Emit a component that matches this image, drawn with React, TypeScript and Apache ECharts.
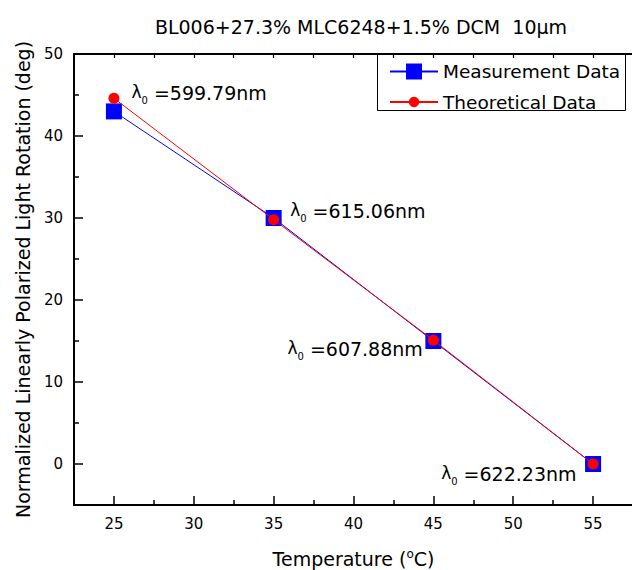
import React, { useEffect, useRef } from 'react';
import * as echarts from 'echarts';

const temperatures = [25, 35, 45, 55];
const measurementData = [43.0, 30.0, 15.0, 0.0];
const theoreticalData = [44.6, 29.8, 15.1, 0.0];
const lambdaValues = ['599.79', '615.06', '607.88', '622.23'];
const xMajorTicks = [25, 30, 35, 40, 45, 50, 55];
const xMinorTicks = [27.5, 32.5, 37.5, 42.5, 47.5, 52.5];
const yMajorTicks = [0, 10, 20, 30, 40, 50];
const yMinorTicks = [5, 15, 25, 35, 45];

const titleText = 'BL006+27.3% MLC6248+1.5% DCM  10\u03bcm';
const xName = 'Temperature ({sup|o}C)';
const yName = 'Normalized Linearly Polarized Light Rotation (deg)';
const seriesNames = ['Measurement Data', 'Theoretical Data'];

const FONT = "'DejaVu Sans', sans-serif";

// label placement style for each annotation (position + pixel nudge)
const labelPlacement: { position: string; offset: number[] }[] = [
  { position: 'right', offset: [7, -4] },
  { position: 'right', offset: [6, -7] },
  { position: 'left', offset: [0, 10] },
  { position: 'left', offset: [-6, 11] },
];

const lambdaRich = {
  l: { fontFamily: FONT, fontSize: 17, color: '#000', lineHeight: 22, verticalAlign: 'top' },
  s: { fontFamily: FONT, fontSize: 10, color: '#000', lineHeight: 12, padding: [16, 0, 0, 0], verticalAlign: 'bottom' },
  t: { fontFamily: FONT, fontSize: 19, color: '#000', lineHeight: 22, verticalAlign: 'top' },
};

export default function App() {
  const ref = useRef<HTMLDivElement>(null);

  useEffect(() => {
    if (!ref.current) return;
    const chart = echarts.init(ref.current, undefined, { renderer: 'svg' });

    const baseX = {
      type: 'value',
      min: 22.5,
      max: 57.5,
      splitLine: { show: false },
    };
    const baseY = {
      type: 'value',
      min: -5,
      max: 50,
      splitLine: { show: false },
    };

    const option: any = {
      animation: false,
      backgroundColor: '#fff',
      title: {
        text: titleText,
        left: 356,
        top: 12,
        textAlign: 'center',
        textStyle: { fontFamily: FONT, fontSize: 19, fontWeight: 'normal', color: '#000' },
      },
      grid: { left: 74, top: 54, width: 559, height: 451, containLabel: false, outerBoundsMode: 'none' },
      legend: [
        {
          data: [seriesNames[0]],
          left: 389,
          top: 62,
          padding: 0,
          itemWidth: 48,
          itemHeight: 20,
          selectedMode: false,
          textStyle: { fontFamily: FONT, fontSize: 18.5, color: '#000' },
          z: 10,
        },
        {
          data: [seriesNames[1]],
          left: 389,
          top: 92.5,
          padding: 0,
          itemWidth: 48,
          itemHeight: 13,
          selectedMode: false,
          textStyle: { fontFamily: FONT, fontSize: 18.5, color: '#000' },
          z: 10,
        },
      ],
      graphic: [
        {
          type: 'rect',
          shape: { x: 377.5, y: 54.5, width: 248, height: 56 },
          style: { fill: '#fff', stroke: '#000', lineWidth: 1 },
          z: 3,
        },
      ],
      xAxis: [
        {
          ...baseX,
          position: 'bottom',
          name: xName,
          nameLocation: 'middle',
          nameGap: 43,
          nameTextStyle: {
            fontFamily: FONT,
            fontSize: 19,
            color: '#000',
            rich: { sup: { fontFamily: FONT, fontSize: 12, color: '#000', verticalAlign: 'top', lineHeight: 22 } },
          },
          axisLine: { show: true, onZero: false, lineStyle: { color: '#000', width: 2 } },
          axisTick: { show: true, inside: true, length: 9, customValues: xMajorTicks, lineStyle: { color: '#000', width: 1.5 } },
          axisLabel: { show: true, customValues: xMajorTicks, margin: 11, fontFamily: FONT, fontSize: 15, color: '#000' },
        },
        {
          ...baseX,
          position: 'bottom',
          axisLine: { show: false, onZero: false },
          axisTick: { show: true, inside: true, length: 5, customValues: xMinorTicks, lineStyle: { color: '#000', width: 1.5 } },
          axisLabel: { show: false },
        },
        {
          ...baseX,
          position: 'top',
          z: 6,
          axisLine: { show: true, onZero: false, lineStyle: { color: '#000', width: 2 } },
          axisTick: { show: true, inside: true, length: 4, customValues: [...xMajorTicks, ...xMinorTicks], lineStyle: { color: '#000', width: 1.2 } },
          axisLabel: { show: false },
        },
      ],
      yAxis: [
        {
          ...baseY,
          position: 'left',
          name: yName,
          nameLocation: 'middle',
          nameGap: 42,
          nameTextStyle: { fontFamily: FONT, fontSize: 19, color: '#000' },
          axisLine: { show: true, onZero: false, lineStyle: { color: '#000', width: 2 } },
          axisTick: { show: true, inside: true, length: 9, customValues: yMajorTicks, lineStyle: { color: '#000', width: 1.5 } },
          axisLabel: { show: true, customValues: yMajorTicks, margin: 11, fontFamily: FONT, fontSize: 15, color: '#000' },
        },
        {
          ...baseY,
          position: 'left',
          axisLine: { show: false, onZero: false },
          axisTick: { show: true, inside: true, length: 5, customValues: yMinorTicks, lineStyle: { color: '#000', width: 1.5 } },
          axisLabel: { show: false },
        },
      ],
      series: [
        {
          name: seriesNames[0],
          type: 'line',
          xAxisIndex: 0,
          yAxisIndex: 0,
          data: temperatures.map((t, i) => [t, measurementData[i]]),
          symbol: 'rect',
          symbolSize: 16,
          itemStyle: { color: '#0000ff' },
          lineStyle: { color: '#0000ff', width: 1 },
          z: 2,
        },
        {
          name: seriesNames[1],
          type: 'line',
          xAxisIndex: 0,
          yAxisIndex: 0,
          data: temperatures.map((t, i) => ({
            value: [t, theoreticalData[i]],
            label: {
              show: true,
              position: labelPlacement[i].position,
              offset: labelPlacement[i].offset,
              formatter: '{l|\u03bb}{s|0}{t| =' + lambdaValues[i] + 'nm}',
              rich: lambdaRich,
            },
          })),
          symbol: 'circle',
          symbolSize: 11,
          itemStyle: { color: '#ff0000' },
          lineStyle: { color: '#ff0000', width: 1 },
          z: 3,
        },
      ],
    };

    chart.setOption(option);
    return () => chart.dispose();
  }, []);

  return (
    <div
      ref={ref}
      style={{ position: 'fixed', left: 0, top: 0, width: 632, height: 570, background: '#fff' }}
    />
  );
}
